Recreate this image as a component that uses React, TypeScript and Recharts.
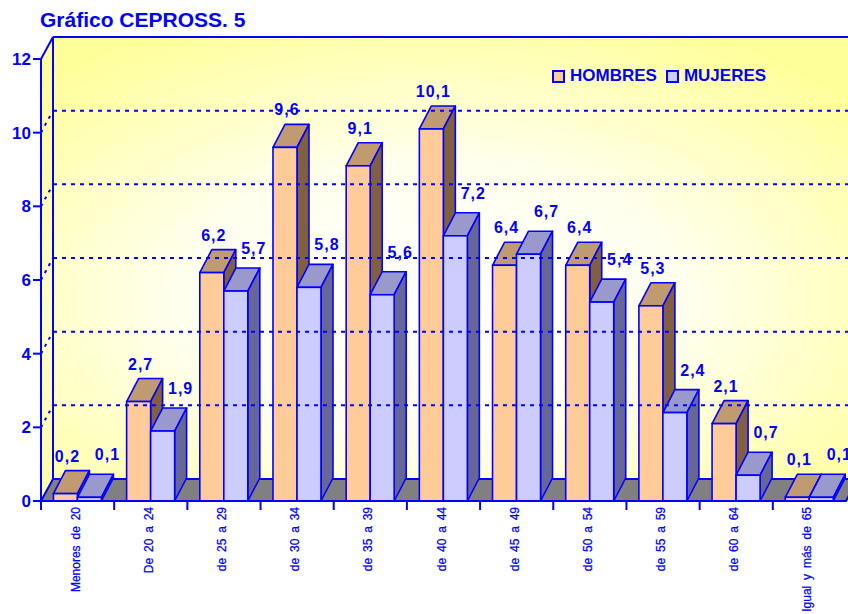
import React from 'react';
import { BarChart, Bar, XAxis, YAxis, ReferenceArea, ReferenceLine, LabelList, Legend } from 'recharts';

const title = 'Gráfico CEPROSS. 5';
const categories = [
  'Menores de 20',
  'De 20 a 24',
  'de 25 a 29',
  'de 30 a 34',
  'de 35 a 39',
  'de 40 a 44',
  'de 45 a 49',
  'de 50 a 54',
  'de 55 a 59',
  'de 60 a 64',
  'Igual y más de 65',
];
const hombres = [0.2, 2.7, 6.2, 9.6, 9.1, 10.1, 6.4, 6.4, 5.3, 2.1, 0.1];
const mujeres = [0.1, 1.9, 5.7, 5.8, 5.6, 7.2, 6.7, 5.4, 2.4, 0.7, 0.1];
const seriesNames = ['HOMBRES', 'MUJERES'];
const yTicks = [0, 2, 4, 6, 8, 10, 12];
const gridValues = [2, 4, 6, 8, 10];

const data = categories.map((cat, i) => ({ cat, h: hombres[i], m: mujeres[i] }));

const BLUE = '#0000FF';
const SANS = '"Liberation Sans", Arial, sans-serif';
const DX = 12;
const DY = 22;
const BDY = 23;

const COLORS = {
  h: { front: '#FFCC99', top: '#C09A70', side: '#806040' },
  m: { front: '#CCCCFF', top: '#9999CC', side: '#666699' },
};

const make3DBar = (c: { front: string; top: string; side: string }) => (props: any) => {
  const { x, y, width: w, height: h } = props;
  if (x == null || w == null || h == null) return <g />;
  const sw = 1.6;
  return (
    <g>
      <polygon
        points={`${x},${y} ${x + DX},${y - BDY} ${x + w + DX},${y - BDY} ${x + w},${y}`}
        fill={c.top}
        stroke={BLUE}
        strokeWidth={sw}
        strokeLinejoin="round"
      />
      <polygon
        points={`${x + w},${y} ${x + w + DX},${y - BDY} ${x + w + DX},${y + h - BDY} ${x + w},${y + h}`}
        fill={c.side}
        stroke={BLUE}
        strokeWidth={sw}
        strokeLinejoin="round"
      />
      <rect x={x} y={y} width={w} height={h} fill={c.front} stroke={BLUE} strokeWidth={sw} />
    </g>
  );
};

const Walls = (props: any) => {
  const { x, y, width: w, height: h } = props;
  if (x == null) return <g />;
  const b = y + h;
  return (
    <g>
      <defs>
        <radialGradient id="wallGrad" cx="47%" cy="60%" r="70%">
          <stop offset="0" stopColor="#FFFFFF" />
          <stop offset="0.45" stopColor="#FFFFEE" />
          <stop offset="1" stopColor="#FFFF99" />
        </radialGradient>
        <linearGradient id="leftGrad" x1="0" y1="0" x2="0" y2="1">
          <stop offset="0" stopColor="#FFFF99" />
          <stop offset="0.6" stopColor="#FFFFCC" />
          <stop offset="1" stopColor="#FFFFAA" />
        </linearGradient>
      </defs>
      <rect x={x + DX} y={y - DY} width={w} height={h} fill="url(#wallGrad)" />
      <polygon
        points={`${x},${y} ${x + DX},${y - DY} ${x + DX},${b - DY} ${x},${b}`}
        fill="url(#leftGrad)"
      />
      <line x1={x + DX} y1={y - DY} x2={x + DX + w} y2={y - DY} stroke={BLUE} strokeWidth={2} />
      <line x1={x + DX} y1={y - DY} x2={x + DX} y2={b - DY} stroke={BLUE} strokeWidth={2} />
      <line x1={x} y1={y} x2={x + DX} y2={y - DY} stroke={BLUE} strokeWidth={2} />
      <polygon
        points={`${x},${b} ${x + DX},${b - DY} ${x + w + DX},${b - DY} ${x + w},${b}`}
        fill="#808080"
        stroke={BLUE}
        strokeWidth={2}
        strokeLinejoin="round"
      />
    </g>
  );
};

const GridLine = (props: any) => {
  const { x1, y1, x2 } = props;
  if (x1 == null) return <g />;
  return (
    <g>
      <line x1={x1} y1={y1} x2={x1 + DX} y2={y1 - DY} stroke={BLUE} strokeWidth={2} strokeDasharray="3 5" />
      <line x1={x1 + DX} y1={y1 - DY} x2={x2 + DX} y2={y1 - DY} stroke={BLUE} strokeWidth={2} strokeDasharray="4 5" />
    </g>
  );
};

const makeLabel = (dx: number, lift: number) => (props: any) => {
  const { x, y, width: w, value } = props;
  if (x == null) return null;
  return (
    <text
      x={x + w / 2 + dx}
      y={y - BDY - lift}
      textAnchor="middle"
      fill={BLUE}
      fontFamily={SANS}
      fontWeight="bold"
      fontSize={16}
      letterSpacing={1}
    >
      {String(value).replace('.', ',')}
    </text>
  );
};

const XTick = (props: any) => {
  const { x, y, payload } = props;
  const half = payload && payload.offset ? payload.offset : 36.6;
  return (
    <g>
      <line x1={x - half} y1={y} x2={x - half} y2={y + 9} stroke={BLUE} strokeWidth={2} />
      <text
        transform={`translate(${x + 2},${y + 6}) rotate(-90)`}
        textAnchor="end"
        fill={BLUE}
        fontFamily={SANS}
        fontSize={12}
        wordSpacing={2.5}
        stroke={BLUE}
        strokeWidth={0.25}
      >
        {payload.value}
      </text>
    </g>
  );
};

const LegendContent = () => (
  <div style={{ display: 'flex', alignItems: 'center', whiteSpace: 'nowrap', fontFamily: SANS, fontWeight: 'bold', fontSize: 17, color: BLUE }}>
    {seriesNames.map((n, i) => (
      <span key={n} style={{ display: 'flex', alignItems: 'center', marginRight: 9 }}>
        <span
          style={{
            display: 'inline-block',
            width: 9,
            height: 9,
            border: `2px solid ${BLUE}`,
            background: i === 0 ? COLORS.h.front : COLORS.m.front,
            marginRight: 5,
          }}
        />
        {n}
      </span>
    ))}
  </div>
);

export default function App() {
  return (
    <div style={{ position: 'absolute', left: 0, top: 0, width: 848, height: 614, background: '#FFFFFF', overflow: 'hidden' }}>
      <div
        style={{
          position: 'absolute',
          left: 40,
          top: 9,
          fontFamily: SANS,
          fontWeight: 'bold',
          fontSize: 21,
          lineHeight: '21px',
          color: BLUE,
          whiteSpace: 'nowrap',
        }}
      >
        {title}
      </div>
      <BarChart
        width={848}
        height={614}
        data={data}
        margin={{ top: 59, right: 2, bottom: 0, left: 0 }}
        barCategoryGap="17%"
        barGap={0}
      >
        <ReferenceArea y1={0} y2={12} ifOverflow="visible" shape={<Walls />} />
        {gridValues.map((v) => (
          <ReferenceLine key={v} y={v} ifOverflow="visible" shape={<GridLine />} />
        ))}
        <XAxis
          dataKey="cat"
          type="category"
          interval={0}
          height={113}
          tickLine={false}
          tickSize={0}
          tickMargin={0}
          axisLine={{ stroke: BLUE, strokeWidth: 2 }}
          tick={<XTick />}
        />
        <YAxis
          type="number"
          domain={[0, 12]}
          ticks={yTicks}
          width={41}
          tickSize={8}
          tickMargin={2}
          axisLine={{ stroke: BLUE, strokeWidth: 2 }}
          tickLine={{ stroke: BLUE, strokeWidth: 2 }}
          tick={{ fill: BLUE, fontFamily: SANS, fontWeight: 'bold', fontSize: 17 }}
        />
        <Legend
          content={<LegendContent />}
          wrapperStyle={{ position: 'absolute', left: 552, top: 66, width: 0, height: 0, overflow: 'visible' }}
        />
        <Bar dataKey="h" name={seriesNames[0]} isAnimationActive={false} shape={make3DBar(COLORS.h)}>
          <LabelList dataKey="h" content={makeLabel(2, 9)} />
        </Bar>
        <Bar dataKey="m" name={seriesNames[1]} isAnimationActive={false} shape={make3DBar(COLORS.m)}>
          <LabelList dataKey="m" content={makeLabel(18, 14)} />
        </Bar>
      </BarChart>
    </div>
  );
}
